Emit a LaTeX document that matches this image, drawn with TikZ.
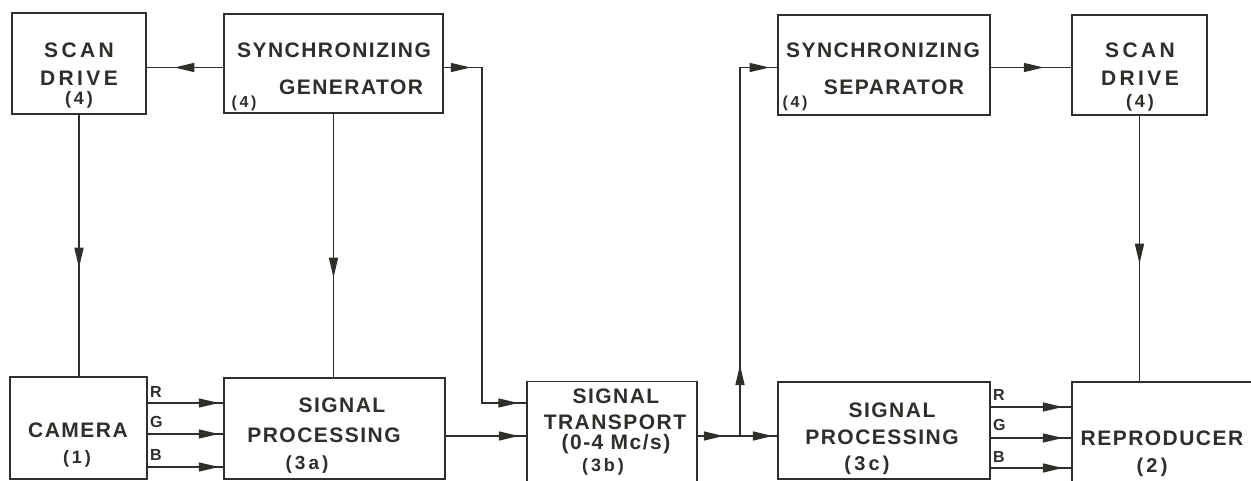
\documentclass[tikz,border=0pt]{standalone}
\usepackage{fontspec}
\setmainfont{Liberation Sans}
\newfontfamily\lettering[LetterSpace=7]{Liberation Sans}
\newfontfamily\wideletter[LetterSpace=16]{Liberation Sans}
\usetikzlibrary{arrows.meta,decorations.markings}
\definecolor{ink}{HTML}{2E2E2A}

\begin{document}
\begin{tikzpicture}[x=1pt, y=-1pt,
  box/.style={draw=ink, line width=1.5pt, inner sep=0pt},
  wire/.style={color=ink, line width=1.4pt},
  tipat/.style={postaction={decorate, decoration={markings,
      mark=at position #1 with {\arrow{Triangle[length=20pt,width=9pt]}}}}},
  big/.style={font=\lettering\bfseries\fontsize{21}{21}\selectfont, text=ink, inner sep=0pt},
  wide/.style={font=\wideletter\bfseries\fontsize{21}{21}\selectfont, text=ink, inner sep=0pt},
  num/.style={font=\wideletter\bfseries\fontsize{#1}{#1}\selectfont, text=ink, inner sep=0pt},
  num/.default=18,
  chan/.style={font=\lettering\bfseries\fontsize{16}{16}\selectfont, text=ink,
               inner sep=0pt, anchor=west}]

\useasboundingbox (0,0) rectangle (1251,481);
\fill[white] (0,0) rectangle (1251,481);

% rows the connectors run along
\coordinate (rowA) at (0,67.5);
\coordinate (rowM) at (0,436);
\coordinate (lR) at (0,403);
\coordinate (lG) at (0,434);
\coordinate (lB) at (0,467);
\coordinate (cR) at (0,407);
\coordinate (cG) at (0,438);
\coordinate (cB) at (0,468);
\coordinate (bendA) at (482,403);
\coordinate (split) at (740,436);

% top row
\node[box, minimum width=134pt, minimum height=101pt] (scanL) at (79,63.5) {};
\node[wide] (scanLa) at (79,50) {SCAN};
\node[wide] (scanLb) at (79,78) {DRIVE};
\node[num] (scanLc) at (79,100) {(4)};

\node[box, minimum width=219pt, minimum height=99pt] (syncG) at (333.5,63.5) {};
\node[big] (syncGa) at (334,50) {SYNCHRONIZING};
\node[big] (syncGb) at (351,87) {GENERATOR};
\node[num=16] (syncGc) at (244,103) {(4)};

\node[box, minimum width=212pt, minimum height=100pt] (syncS) at (884,65) {};
\node[big] (syncSa) at (883,50) {SYNCHRONIZING};
\node[big] (syncSb) at (894,87) {SEPARATOR};
\node[num=16] (syncSc) at (795,103) {(4)};

\node[box, minimum width=135pt, minimum height=100pt] (scanR) at (1139.5,65) {};
\node[wide] (scanRa) at (1140,50) {SCAN};
\node[wide] (scanRb) at (1140,78) {DRIVE};
\node[num] (scanRc) at (1140,103) {(4)};

% bottom row
\node[box, minimum width=137pt, minimum height=102pt] (camera) at (78.5,428) {};
\node[big] (cameraa) at (78,430) {CAMERA};
\node[num] (camerab) at (77,459) {(1)};

\node[box, minimum width=221pt, minimum height=101pt] (procA) at (334.5,428.5) {};
\node[big] (procAa) at (342,405) {SIGNAL};
\node[big] (procAb) at (324,435) {PROCESSING};
\node[num=19] (procAc) at (307,465) {(3a)};

\node[box, minimum width=170pt, minimum height=101pt] (trans) at (612,432) {};
\node[big] (transa) at (616,396) {SIGNAL};
\node[big] (transb) at (615,422) {TRANSPORT};
\node[big] (transc) at (616,444) {(0-4 Mc/s)};
\node[num] (transd) at (603,467) {(3b)};

\node[box, minimum width=212pt, minimum height=97pt] (procC) at (884,430.5) {};
\node[big] (procCa) at (892,410) {SIGNAL};
\node[big] (procCb) at (882,437) {PROCESSING};
\node[num=20] (procCc) at (867,465) {(3c)};

\node[box, minimum width=186pt, minimum height=102pt] (repro) at (1165,433) {};
\node[big] (reproa) at (1162,438) {REPRODUCER};
\node[num=20] (reprob) at (1152,467) {(2)};

% colour channels
\node[chan] (camR) at (150,392) {R};
\node[chan] (camG) at (150,422) {G};
\node[chan] (camB) at (150,455) {B};
\node[chan] (repR) at (993,395) {R};
\node[chan] (repG) at (993,425) {G};
\node[chan] (repB) at (993,457) {B};

% connectors
\draw[wire, tipat=49pt] (syncG.west |- rowA) -- (scanL.east |- rowA);
\draw[wire, tipat=27pt, tipat=410pt] (syncG.east |- rowA) -| (bendA) -- (trans.west |- bendA);
\draw[wire, tipat=153pt] (scanL.south) -- (scanL.south |- camera.north);
\draw[wire, tipat=164pt] (syncG.south) -- (syncG.south |- procA.north);
\foreach \r in {lR,lG,lB}
  \draw[wire, tipat=71pt] (camera.east |- \r) -- (procA.west |- \r);
\draw[wire, tipat=73pt] (procA.east |- rowM) -- (trans.west |- rowM);
\draw[wire, tipat=26pt, tipat=75pt] (trans.east |- rowM) -- (procC.west |- rowM);
\draw[wire, tipat=71pt, tipat=398pt] (split) |- (syncS.west |- rowA);
\draw[wire, tipat=53pt] (syncS.east |- rowA) -- (scanR.west |- rowA);
\draw[wire, tipat=148pt] (scanR.south) -- (scanR.south |- repro.north);
\foreach \r in {cR,cG,cB}
  \draw[wire, tipat=72pt] (procC.east |- \r) -- (repro.west |- \r);

\end{tikzpicture}
\end{document}
